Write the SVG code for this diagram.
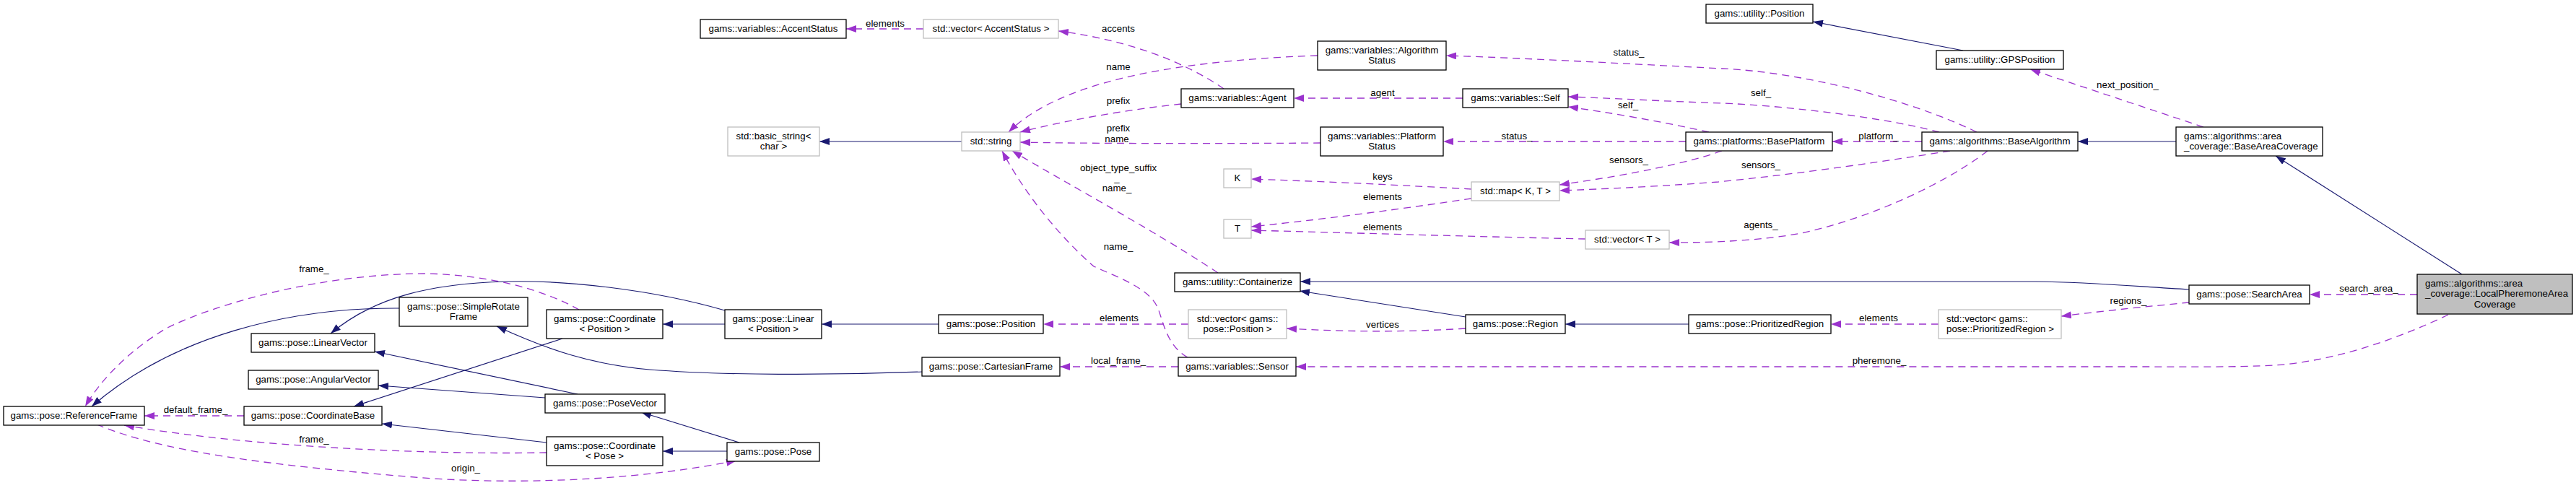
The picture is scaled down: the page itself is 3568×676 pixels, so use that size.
<svg xmlns="http://www.w3.org/2000/svg" width="3568" height="676" viewBox="0 0 3568 676">
<style>
text{font-family:"Liberation Sans",Arial,Helvetica,sans-serif;font-size:13.3px;fill:#000}
.c{text-anchor:middle}
.l{text-anchor:start}
.nb{fill:#fff;stroke:#000;stroke-width:1.3}
.ng{fill:#fff;stroke:#bfbfbf;stroke-width:1.3}
.nm{fill:#bfbfbf;stroke:#000;stroke-width:1.3}
.inh{fill:none;stroke:#191970;stroke-width:1.2}
.use{fill:none;stroke:#9a32cd;stroke-width:1.3;stroke-dasharray:10,7}
.inh{marker-end:url(#an)}
.use{marker-end:url(#ap)}
</style>
<defs>
<marker id="an" markerWidth="14" markerHeight="10" refX="14" refY="5" orient="auto" markerUnits="userSpaceOnUse"><path d="M0,0 L14,5 L0,10 z" fill="#191970"/></marker>
<marker id="ap" markerWidth="14" markerHeight="10" refX="14" refY="5" orient="auto" markerUnits="userSpaceOnUse"><path d="M0,0 L14,5 L0,10 z" fill="#9a32cd"/></marker>
</defs>
<rect width="3568" height="676" fill="#fff"/>
<g id="edges">
<path class="inh" d="M1332,196 L1135,196"/>
<path class="inh" d="M2719,70 L2511,30"/>
<path class="inh" d="M3014,196 L2878,196"/>
<path class="inh" d="M3410,380 L3152,216"/>
<path class="inh" d="M2030,439 L1800,403"/>
<path class="inh" d="M3032,401 C2960,397 2900,391 2820,390 L1801,390"/>
<path class="inh" d="M2339,449 L2168,449"/>
<path class="inh" d="M1004,449 L918,449"/>
<path class="inh" d="M1300,449 L1138,449"/>
<path class="inh" d="M1007,625 L918,625"/>
<path class="inh" d="M1024,613 L888,571"/>
<path class="inh" d="M800,546 L519,487"/>
<path class="inh" d="M755,551 L524,534"/>
<path class="inh" d="M779,469 L490,563"/>
<path class="inh" d="M757,613 L529,587"/>
<path class="inh" d="M553,427 C400,426 240,465 127,563"/>
<path class="inh" d="M1277,515 C1150,520 1000,520 900,512 C820,505 760,485 688,452"/>
<path class="inh" d="M1004,430 C900,400 780,388 700,390 C600,393 520,410 458,462"/>

<path class="use" d="M1279,40 L1172,40"/>
<path class="use" d="M1695,123 C1640,85 1560,55 1466,43"/>
<path class="use" d="M1825,77 C1600,85 1460,120 1397,183"/>
<path class="use" d="M1636,144 C1560,152 1470,168 1413,183"/>
<path class="use" d="M1829,198 C1700,199 1500,199 1413,197"/>
<path class="use" d="M1687,378 C1600,320 1470,250 1402,209"/>
<path class="use" d="M1645,495 C1618,480 1612,450 1605,430 C1595,400 1550,385 1515,369 C1470,330 1420,270 1388,209"/>
<path class="use" d="M2026,136 L1792,136"/>
<path class="use" d="M2738,183 C2650,140 2500,100 2385,95 C2250,88 2100,80 2003,77"/>
<path class="use" d="M2686,183 C2600,160 2450,145 2385,143 C2300,140 2230,136 2172,134"/>
<path class="use" d="M2367,183 C2300,168 2230,156 2172,148"/>
<path class="use" d="M2662,196 L2538,196"/>
<path class="use" d="M2335,196 L1999,196"/>
<path class="use" d="M2701,209 C2620,222 2500,240 2380,252 C2300,258 2220,262 2160,264"/>
<path class="use" d="M2385,209 C2340,225 2260,242 2160,256"/>
<path class="use" d="M2038,262 C1950,257 1850,252 1733,248"/>
<path class="use" d="M2038,275 C1950,288 1850,302 1733,314"/>
<path class="use" d="M2196,331 C2050,328 1850,322 1733,319"/>
<path class="use" d="M2753,209 C2700,250 2600,300 2495,323 C2440,333 2380,336 2312,336"/>
<path class="use" d="M3052,176 L2812,96"/>
<path class="use" d="M1646,449 L1445,449"/>
<path class="use" d="M2030,455 C1950,460 1870,460 1782,455"/>
<path class="use" d="M2685,449 L2536,449"/>
<path class="use" d="M3032,419 C2980,424 2920,430 2855,438"/>
<path class="use" d="M3348,408 L3199,408"/>
<path class="use" d="M3391,436 C3330,465 3240,500 3150,506 C3100,509 3000,508 2968,508 L1795,508"/>
<path class="use" d="M1632,508 L1468,508"/>
<path class="use" d="M802,429 C750,400 680,382 595,379 C450,378 300,420 230,455 C180,485 140,525 118,563"/>
<path class="use" d="M338,576 L200,576"/>
<path class="use" d="M757,627 C600,630 350,620 172,589"/>
<path class="use" d="M134,588 C200,615 300,640 600,663 C750,672 900,662 1020,638"/>

<g id="edge-labels">
<text class="c" x="1226" y="36.5">elements</text>
<text class="c" x="1549" y="43.5">accents</text>
<text class="c" x="1549" y="96.5">name</text>
<text class="c" x="1549" y="143.5">prefix</text>
<text class="c" x="1549" y="181.5">prefix</text>
<text class="c" x="1547" y="196.5">name</text>
<text class="c" x="1549" y="236.5">object_type_suffix</text>
<text class="c" x="1547" y="251">_</text>
<text class="c" x="1547" y="265">name_</text>
<text class="c" x="1549" y="345.5">name_</text>
<text class="c" x="1915" y="132.5">agent</text>
<text class="c" x="2256" y="76.5">status_</text>
<text class="c" x="2439" y="132.5">self_</text>
<text class="c" x="2255" y="149.5">self_</text>
<text class="c" x="2602" y="192.5">platform_</text>
<text class="c" x="2101" y="192.5">status_</text>
<text class="c" x="2439" y="232.5">sensors_</text>
<text class="c" x="2256" y="225.5">sensors_</text>
<text class="c" x="1915" y="248.5">keys</text>
<text class="c" x="1915" y="276.5">elements</text>
<text class="c" x="1915" y="318.5">elements</text>
<text class="c" x="2439" y="315.5">agents_</text>
<text class="c" x="2947" y="121.5">next_position_</text>
<text class="c" x="1550" y="444.5">elements</text>
<text class="c" x="1915" y="453.5">vertices</text>
<text class="c" x="2602" y="444.5">elements</text>
<text class="c" x="2948" y="420.5">regions_</text>
<text class="c" x="3281" y="403.5">search_area_</text>
<text class="c" x="2603" y="503.5">pheremone_</text>
<text class="c" x="1549" y="503.5">local_frame_</text>
<text class="c" x="435" y="376.5">frame_</text>
<text class="c" x="271" y="571.5">default_frame_</text>
<text class="c" x="435" y="612.5">frame_</text>
<text class="c" x="645" y="652.5">origin_</text>
</g>
</g>

<g id="n-accentstatus"><rect class="nb" x="970" y="27" width="202" height="26"/><text class="c" x="1071" y="44">gams::variables::AccentStatus</text></g>
<g id="n-vec-accent"><rect class="ng" x="1279" y="27" width="187" height="26"/><text class="c" x="1372.5" y="44">std::vector&lt; AccentStatus &gt;</text></g>
<g id="n-basic-string"><rect class="ng" x="1008" y="176" width="127" height="40"/><text class="c" x="1071.5" y="193">std::basic_string&lt;</text><text class="c" x="1071.5" y="207">char &gt;</text></g>
<g id="n-string"><rect class="ng" x="1332" y="183" width="81" height="26"/><text class="c" x="1372.5" y="200">std::string</text></g>
<g id="n-agent"><rect class="nb" x="1636" y="123" width="156" height="26"/><text class="c" x="1714" y="140">gams::variables::Agent</text></g>
<g id="n-algstatus"><rect class="nb" x="1825" y="57" width="178" height="40"/><text class="c" x="1914" y="74">gams::variables::Algorithm</text><text class="c" x="1914" y="88">Status</text></g>
<g id="n-self"><rect class="nb" x="2026" y="123" width="146" height="26"/><text class="c" x="2099" y="140">gams::variables::Self</text></g>
<g id="n-platstatus"><rect class="nb" x="1829" y="176" width="170" height="40"/><text class="c" x="1914" y="193">gams::variables::Platform</text><text class="c" x="1914" y="207">Status</text></g>
<g id="n-map"><rect class="ng" x="2038" y="252" width="122" height="26"/><text class="c" x="2099" y="269">std::map&lt; K, T &gt;</text></g>
<g id="n-k"><rect class="ng" x="1695" y="234" width="38" height="26"/><text class="c" x="1714" y="251">K</text></g>
<g id="n-t"><rect class="ng" x="1695" y="304" width="38" height="26"/><text class="c" x="1714" y="321">T</text></g>
<g id="n-vec-t"><rect class="ng" x="2196" y="319" width="116" height="26"/><text class="c" x="2254" y="336">std::vector&lt; T &gt;</text></g>
<g id="n-util-position"><rect class="nb" x="2363" y="6" width="148" height="26"/><text class="c" x="2437" y="23">gams::utility::Position</text></g>
<g id="n-gpsposition"><rect class="nb" x="2682" y="70" width="176" height="26"/><text class="c" x="2770" y="87">gams::utility::GPSPosition</text></g>
<g id="n-baseplatform"><rect class="nb" x="2335" y="183" width="203" height="26"/><text class="c" x="2436.5" y="200">gams::platforms::BasePlatform</text></g>
<g id="n-basealgorithm"><rect class="nb" x="2662" y="183" width="216" height="26"/><text class="c" x="2770" y="200">gams::algorithms::BaseAlgorithm</text></g>
<g id="n-baseareacoverage"><rect class="nb" x="3014" y="176" width="203" height="40"/><text class="l" x="3025" y="193">gams::algorithms::area</text><text class="l" x="3025" y="207">_coverage::BaseAreaCoverage</text></g>
<g id="n-referenceframe"><rect class="nb" x="5" y="563" width="195" height="26"/><text class="c" x="102.5" y="580">gams::pose::ReferenceFrame</text></g>
<g id="n-linearvector"><rect class="nb" x="348" y="462" width="171" height="26"/><text class="c" x="433.5" y="479">gams::pose::LinearVector</text></g>
<g id="n-angularvector"><rect class="nb" x="344" y="513" width="180" height="26"/><text class="c" x="434" y="530">gams::pose::AngularVector</text></g>
<g id="n-coordinatebase"><rect class="nb" x="338" y="563" width="191" height="26"/><text class="c" x="433.5" y="580">gams::pose::CoordinateBase</text></g>
<g id="n-simplerotateframe"><rect class="nb" x="553" y="412" width="178" height="40"/><text class="c" x="642" y="429">gams::pose::SimpleRotate</text><text class="c" x="642" y="443">Frame</text></g>
<g id="n-coord-position"><rect class="nb" x="757" y="429" width="161" height="40"/><text class="c" x="837.5" y="446">gams::pose::Coordinate</text><text class="c" x="837.5" y="460">&lt; Position &gt;</text></g>
<g id="n-linear-position"><rect class="nb" x="1004" y="429" width="134" height="40"/><text class="c" x="1071" y="446">gams::pose::Linear</text><text class="c" x="1071" y="460">&lt; Position &gt;</text></g>
<g id="n-posevector"><rect class="nb" x="755" y="546" width="166" height="26"/><text class="c" x="838" y="563">gams::pose::PoseVector</text></g>
<g id="n-coord-pose"><rect class="nb" x="757" y="605" width="161" height="40"/><text class="c" x="837.5" y="622">gams::pose::Coordinate</text><text class="c" x="837.5" y="636">&lt; Pose &gt;</text></g>
<g id="n-pose"><rect class="nb" x="1007" y="613" width="128" height="26"/><text class="c" x="1071" y="630">gams::pose::Pose</text></g>
<g id="n-pose-position"><rect class="nb" x="1300" y="436" width="145" height="26"/><text class="c" x="1372.5" y="453">gams::pose::Position</text></g>
<g id="n-cartesianframe"><rect class="nb" x="1277" y="495" width="191" height="26"/><text class="c" x="1372.5" y="512">gams::pose::CartesianFrame</text></g>
<g id="n-containerize"><rect class="nb" x="1627" y="378" width="174" height="26"/><text class="c" x="1714" y="395">gams::utility::Containerize</text></g>
<g id="n-vec-position"><rect class="ng" x="1646" y="429" width="136" height="40"/><text class="c" x="1714" y="446">std::vector&lt; gams::</text><text class="c" x="1714" y="460">pose::Position &gt;</text></g>
<g id="n-sensor"><rect class="nb" x="1632" y="495" width="163" height="26"/><text class="c" x="1713.5" y="512">gams::variables::Sensor</text></g>
<g id="n-region"><rect class="nb" x="2030" y="436" width="138" height="26"/><text class="c" x="2099" y="453">gams::pose::Region</text></g>
<g id="n-prioritizedregion"><rect class="nb" x="2339" y="436" width="197" height="26"/><text class="c" x="2437.5" y="453">gams::pose::PrioritizedRegion</text></g>
<g id="n-vec-prioritized"><rect class="ng" x="2685" y="429" width="170" height="40"/><text class="l" x="2696" y="446">std::vector&lt; gams::</text><text class="l" x="2696" y="460">pose::PrioritizedRegion &gt;</text></g>
<g id="n-searcharea"><rect class="nb" x="3032" y="395" width="167" height="26"/><text class="c" x="3115.5" y="412">gams::pose::SearchArea</text></g>
<g id="n-localpheremone"><rect class="nm" x="3348" y="380" width="215" height="55"/><text class="l" x="3359" y="397">gams::algorithms::area</text><text class="l" x="3359" y="411">_coverage::LocalPheremoneArea</text><text class="c" x="3455.5" y="426">Coverage</text></g>
</svg>
